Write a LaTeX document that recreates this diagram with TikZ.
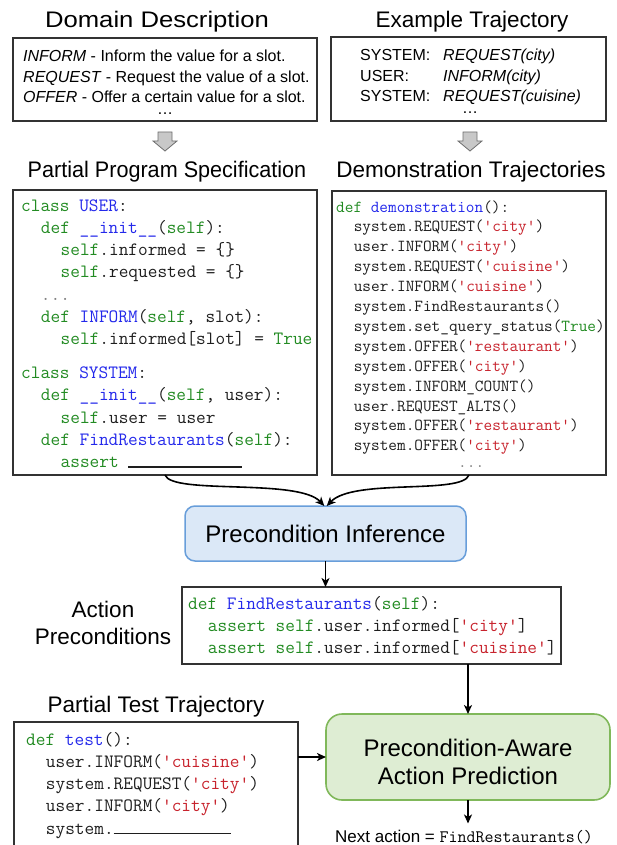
\documentclass[tikz,border=0pt]{standalone}
\usepackage{fontspec}
\setmainfont{Liberation Sans}
\usetikzlibrary{arrows.meta}
\definecolor{kw}{RGB}{34,139,34}
\definecolor{fn}{RGB}{35,40,235}
\definecolor{st}{RGB}{200,35,45}
\definecolor{tx}{RGB}{30,30,30}
\definecolor{bdr}{RGB}{50,50,50}
\definecolor{bluefill}{RGB}{219,232,247}
\definecolor{blueline}{RGB}{104,158,218}
\definecolor{greenfill}{RGB}{222,237,211}
\definecolor{greenline}{RGB}{128,184,90}
\definecolor{garrfill}{RGB}{200,200,200}
\definecolor{garrline}{RGB}{110,110,110}
\newcommand\kwd[1]{\textcolor{kw}{#1}}
\newcommand\fnc[1]{\textcolor{fn}{#1}}
\newcommand\cstr[1]{\textcolor{st}{#1}}
\newcommand\ind{\hspace*{1.05em}}
\newcommand\gdots{\textcolor{gray}{...}}
\tikzset{
  cbox/.style={draw=bdr, line width=1.1pt, inner sep=0pt, outer sep=0pt, anchor=north west, fill=white},
  arr/.style={line width=1.6pt, -{Stealth[length=9pt,width=8pt,inset=2.5pt]}},
  title/.style={font=\fontsize{22.5}{27}\selectfont, anchor=base, inner sep=0pt},
  sanstxt/.style={font=\fontsize{16}{20.3}\selectfont, anchor=base west, inner sep=0pt},
  bigcode/.style={font=\fontsize{18.8}{22.3}\selectfont\ttfamily\color{tx}, anchor=base west, inner sep=0pt},
  smallcode/.style={font=\fontsize{16.8}{19.9}\selectfont\ttfamily\color{tx}, anchor=base west, inner sep=0pt},
  garrow/.style={fill=garrfill, draw=garrline, line width=0.8pt, line join=miter},
}
\begin{document}
\begin{tikzpicture}[x=1pt,y=1pt]
\useasboundingbox (0,0) rectangle (616,-845);
\clip (0,0) rectangle (616,-845);

% titles
\node[title] (t1) at (157,-28) {\scalebox{1.14}[1]{Domain Description}};
\node[title] (t2) at (472,-28) {Example Trajectory};
\node[title] (t3) at (167,-178) {\scalebox{0.96}[1]{Partial Program Specification}};
\node[title] (t4) at (471,-178) {Demonstration Trajectories};
\node[title] (t5) at (156,-712) {Partial Test Trajectory};
\node[title, anchor=base] (t6) at (103,-617) {\begin{tabular}[t]{@{}c@{}}Action\\Preconditions\end{tabular}};

% domain description box
\node[cbox, minimum width=304pt, minimum height=83pt] (dbox) at (13,-38) {};
\node[sanstxt] (dtxt) at (23,-62) {\begin{tabular}[t]{@{}l@{}}
\textit{INFORM} - Inform the value for a slot.\\
\textit{REQUEST} - Request the value of a slot.\\
\textit{OFFER} - Offer a certain value for a slot.\\[-8.3pt]
\hspace*{134pt}…
\end{tabular}};

% example trajectory box
\node[cbox, minimum width=275pt, minimum height=84pt] (ebox) at (331,-37) {};
\node[sanstxt] (etxt) at (360,-61) {\begin{tabular}[t]{@{}l@{}l@{}}
\makebox[83pt][l]{SYSTEM:} & \textit{REQUEST(city)}\\
USER: & \textit{INFORM(city)}\\
SYSTEM: & \textit{REQUEST(cuisine)}\\[-8.3pt]
\multicolumn{2}{@{}l@{}}{\hspace*{102pt}…}
\end{tabular}};

% gray hollow arrows
\coordinate (ga1) at (165,-132);
\coordinate (ga2) at (470,-132);
\draw[garrow] (ga1) ++(-7,0) -- ++(14,0) -- ++(0,-9) -- ++(5,0) -- ++(-12,-10) -- ++(-12,10) -- ++(5,0) -- cycle;
\draw[garrow] (ga2) ++(-7,0) -- ++(14,0) -- ++(0,-9) -- ++(5,0) -- ++(-12,-10) -- ++(-12,10) -- ++(5,0) -- cycle;

% partial program specification box
\node[cbox, minimum width=304pt, minimum height=285pt] (lbox) at (13,-190) {};
\node[bigcode] (lcode) at (21,-211) {\begin{tabular}[t]{@{}l@{}}
\kwd{class} \fnc{USER}:\\
\ind\kwd{def} \fnc{\_\_init\_\_}(\kwd{self}):\\
\ind\ind\kwd{self}.informed = \{\}\\
\ind\ind\kwd{self}.requested = \{\}\\
\ind\gdots\\
\ind\kwd{def} \fnc{INFORM}(\kwd{self}, slot):\\
\ind\ind\kwd{self}.informed[slot] = \kwd{True}\\[11.5pt]
\kwd{class} \fnc{SYSTEM}:\\
\ind\kwd{def} \fnc{\_\_init\_\_}(\kwd{self}, user):\\
\ind\ind\kwd{self}.user = user\\
\ind\kwd{def} \fnc{FindRestaurants}(\kwd{self}):\\
\ind\ind\kwd{assert} \rule{114pt}{1.5pt}
\end{tabular}};

% demonstration trajectories box
\node[cbox, minimum width=274pt, minimum height=284pt] (rbox) at (332,-191) {};
\node[smallcode] (rcode) at (336,-212) {\begin{tabular}[t]{@{}l@{}}
\kwd{def} \fnc{demonstration}():\\
\ind system.REQUEST(\cstr{'city'})\\
\ind user.INFORM(\cstr{'city'})\\
\ind system.REQUEST(\cstr{'cuisine'})\\
\ind user.INFORM(\cstr{'cuisine'})\\
\ind system.FindRestaurants()\\
\ind system.set\_query\_status(\kwd{True})\\
\ind system.OFFER(\cstr{'restaurant'})\\
\ind system.OFFER(\cstr{'city'})\\
\ind system.INFORM\_COUNT()\\
\ind user.REQUEST\_ALTS()\\
\ind system.OFFER(\cstr{'restaurant'})\\
\ind system.OFFER(\cstr{'city'})\\[-3pt]
\hspace*{122pt}\gdots
\end{tabular}};

% precondition inference
\node[draw=blueline, fill=bluefill, line width=1.5pt, rounded corners=10pt, outer sep=0pt,
      minimum width=281pt, minimum height=55pt, font=\fontsize{24}{28}\selectfont] (pinf) at (325.5,-533.5) {Precondition Inference};

% curved connectors
\draw[arr] (lbox.south) .. controls +(7,-20) and +(-26,28) .. ([xshift=-1.2pt]pinf.north);
\draw[arr] (rbox.south) .. controls +(-7,-20) and +(27,28) .. ([xshift=1.2pt]pinf.north);

% action preconditions box
\node[cbox, minimum width=379pt, minimum height=77pt] (abox) at (182,-587) {};
\node[bigcode] (acode) at (188,-609) {\begin{tabular}[t]{@{}l@{}}
\kwd{def} \fnc{FindRestaurants}(\kwd{self}):\\
\ind\kwd{assert} \kwd{self}.user.informed[\cstr{'city'}]\\
\ind\kwd{assert} \kwd{self}.user.informed[\cstr{'cuisine'}]
\end{tabular}};
\draw[arr] (pinf.south) -- (pinf.south |- abox.north);

% precondition-aware action prediction
\node[draw=greenline, fill=greenfill, line width=1.6pt, rounded corners=16pt, outer sep=0pt,
      minimum width=284pt, minimum height=86pt] (gbox) at (468,-757) {};
\node[font=\fontsize{24}{28}\selectfont, anchor=base, inner sep=0pt] (gtxt) at (468,-756) {\begin{tabular}[t]{@{}c@{}}Precondition-Aware\\Action Prediction\end{tabular}};
\draw[arr] (gbox.north |- abox.south) -- (gbox.north);

% partial test trajectory box
\node[cbox, minimum width=284pt, minimum height=140pt] (tbox) at (14,-722) {};
\node[bigcode] (tcode) at (26,-745) {\begin{tabular}[t]{@{}l@{}}
\kwd{def} \fnc{test}():\\
\ind user.INFORM(\cstr{'cuisine'})\\
\ind system.REQUEST(\cstr{'city'})\\
\ind user.INFORM(\cstr{'city'})\\
\ind system.\rule{117pt}{1.5pt}
\end{tabular}};
\draw[arr] (gbox.west -| tbox.east) -- (gbox.west);

% next action
\node[anchor=base, inner sep=0pt, font=\fontsize{17}{20}\selectfont] (next) at (464,-842) {Next action = {\fontsize{17.5}{20}\selectfont\ttfamily FindRestaurants()}};
\draw[arr] (gbox.south) -- ([yshift=6pt]gbox.south |- next.north);
\end{tikzpicture}
\end{document}
